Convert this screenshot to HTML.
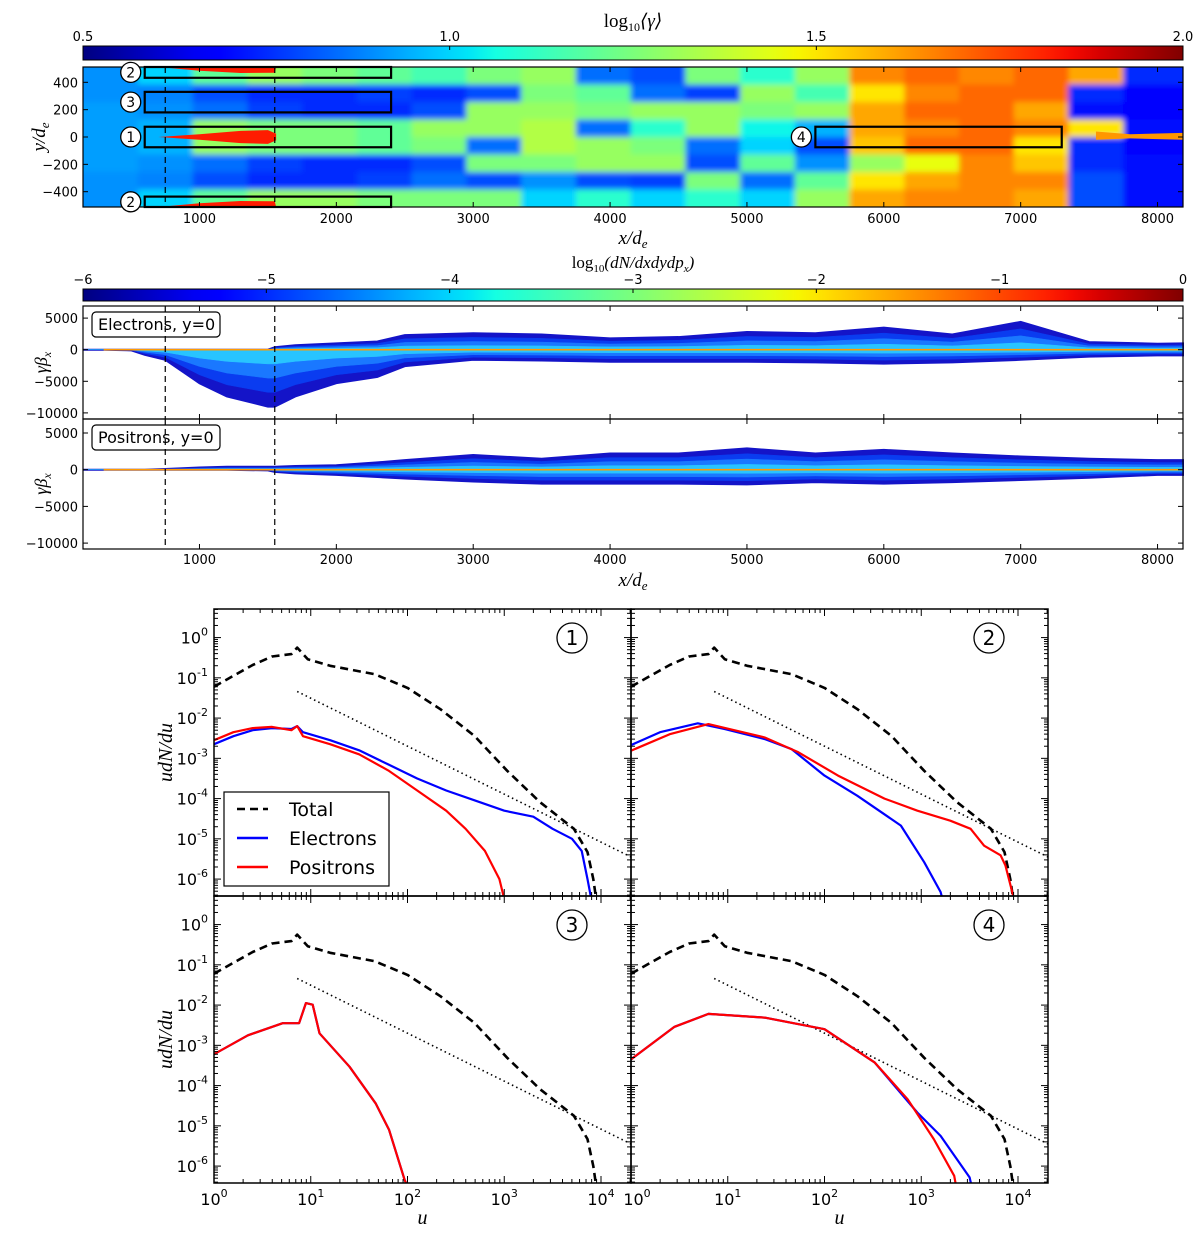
<!DOCTYPE html>
<html><head><meta charset="utf-8"><style>
body{margin:0;background:#fff}
svg text{font-family:"DejaVu Sans","Liberation Sans",sans-serif;fill:#000}
.it{font-family:"Liberation Serif","DejaVu Serif",serif;font-style:italic}
</style></head><body>
<svg id="fig" xmlns="http://www.w3.org/2000/svg" width="1200" height="1231" viewBox="0 0 1200 1231">
<defs>
<linearGradient id="jetg" x1="0" x2="1" y1="0" y2="0"></linearGradient>
<clipPath id="clipTop"><rect x="83" y="67" width="1100" height="140"/></clipPath>
<filter id="blur1" x="-5%" y="-5%" width="110%" height="110%"><feGaussianBlur stdDeviation="3"/></filter>
</defs>
<g id="root"></g>
</svg>
<script>
// ===== data =====
const gammaColStart = [150,550,950,1350,1750,2150,2550,2950,3350,3750,4150,4550,4950,5350,5750,6150,6550,6950,7350,7750];
const gammaRow0 = [0.9,1.0,1.2,1.3,1.25,1.2,1.15,1.25,1.3,0.85,0.8,1.25,1.1,1.3,1.65,1.7,1.65,1.7,1.6,0.75];
const gammaRow1 = [0.9,0.88,0.8,0.75,0.75,0.78,0.75,0.8,1.25,1.2,0.85,0.78,1.3,1.15,1.5,1.65,1.7,1.7,0.75,0.68];
const gammaRow2 = [0.92,0.9,0.85,0.78,0.75,0.75,0.8,1.3,1.3,1.25,1.3,1.3,1.25,1.3,1.6,1.7,1.7,1.6,0.7,0.68];
const gammaRow3 = [0.92,0.95,1.3,1.25,1.25,1.2,1.3,1.3,1.35,0.85,1.1,1.3,1.05,0.95,1.6,1.65,1.7,1.65,1.5,0.7];
const gammaRow4 = [0.92,0.95,1.3,1.25,1.25,1.2,1.25,0.85,1.35,1.3,1.25,0.85,1.0,0.8,1.55,1.7,1.7,1.5,0.75,0.68];
const gammaRow5 = [0.92,0.9,0.85,0.78,0.75,0.75,0.8,1.25,1.25,1.3,1.3,0.8,1.2,0.9,1.3,1.45,1.65,1.55,0.75,0.7];
const gammaRow6 = [0.9,0.88,0.8,0.75,0.75,0.78,0.85,0.8,0.9,0.8,0.78,1.25,0.85,1.2,1.5,1.6,1.65,1.65,0.8,0.7];
const gammaRow7 = [0.9,1.0,1.2,1.3,1.3,1.25,1.25,1.25,1.0,1.1,1.0,1.1,1.0,1.3,1.6,1.65,1.65,1.6,0.8,0.7];

const phaseX = [150,300,500,600,750,1000,1200,1500,1550,1700,2000,2300,2500,3000,3500,4000,4500,5000,5500,6000,6500,7000,7500,8000,8186];
const eleUpper = [0,0,0,0,0,0,0,0,400,700,1000,1300,2300,2600,2400,1800,2000,2800,2600,3500,2400,4400,1200,950,1000];
const eleLower = [0,0,-100,-800,-1600,-5300,-7400,-9000,-9000,-7400,-5300,-4300,-2600,-1600,-1700,-1900,-1900,-1900,-2000,-2200,-2000,-1600,-1100,-900,-900];
const posUpper = [0,0,0,0,100,300,400,400,400,500,600,1000,1300,2000,1500,2200,2200,2900,2200,2700,2200,1800,1500,1300,1300];
const posLower = [0,0,0,0,0,0,0,-100,-300,-500,-700,-1000,-1200,-1600,-1900,-1900,-1900,-2000,-1700,-1900,-1700,-1400,-1100,-700,-700];

// spectra: log10(u), log10(udN/du)
const totalLogU = [0,0.2,0.4,0.6,0.8,0.86,0.97,1.2,1.66,2.0,2.34,2.69,3.03,3.37,3.72,3.86,3.92,3.95];
const totalLogY = [-1.22,-0.95,-0.68,-0.47,-0.41,-0.25,-0.54,-0.7,-0.91,-1.25,-1.78,-2.44,-3.31,-4.09,-4.75,-5.33,-6.0,-6.5];
const dottedLogU = [0.86,4.31];
const dottedLogY = [-1.34,-5.45];
const p1EleU = [0,0.2,0.4,0.6,0.8,0.86,0.92,1.2,1.5,1.8,2.1,2.4,2.7,3.0,3.3,3.5,3.7,3.8,3.86,3.9];
const p1EleY = [-2.65,-2.45,-2.3,-2.25,-2.27,-2.2,-2.35,-2.55,-2.8,-3.15,-3.5,-3.8,-4.05,-4.3,-4.45,-4.75,-5.0,-5.3,-6.0,-6.5];
const p1PosU = [0,0.2,0.4,0.6,0.8,0.86,0.92,1.2,1.5,1.8,2.1,2.4,2.6,2.8,2.95,3.0];
const p1PosY = [-2.55,-2.35,-2.25,-2.22,-2.3,-2.2,-2.45,-2.65,-2.9,-3.3,-3.8,-4.3,-4.75,-5.3,-6.0,-6.5];
const p2EleU = [0,0.3,0.69,0.97,1.38,1.66,2.0,2.34,2.79,3.03,3.2,3.22];
const p2EleY = [-2.67,-2.35,-2.13,-2.27,-2.52,-2.77,-3.43,-3.93,-4.67,-5.58,-6.32,-6.5];
const p2PosU = [0,0.4,0.8,1.38,1.73,2.14,2.62,2.96,3.3,3.51,3.65,3.82,3.87,3.94,3.96];
const p2PosY = [-2.81,-2.4,-2.15,-2.48,-2.85,-3.43,-4.0,-4.3,-4.55,-4.75,-5.17,-5.41,-5.66,-6.32,-6.5];
const p3EleU = [0,0.35,0.71,0.88,0.95,1.02,1.09,1.4,1.67,1.81,1.97,2.0];
const p3EleY = [-3.22,-2.75,-2.45,-2.45,-1.95,-1.99,-2.7,-3.53,-4.44,-5.1,-6.34,-6.5];
const p4EleU = [0,0.45,0.8,1.38,2.0,2.52,2.96,3.2,3.5,3.52];
const p4EleY = [-3.35,-2.54,-2.22,-2.31,-2.6,-3.43,-4.67,-5.25,-6.28,-6.5];
const p4PosU = [0,0.45,0.8,1.38,2.0,2.52,2.86,3.13,3.34,3.36];
const p4PosY = [-3.35,-2.54,-2.22,-2.31,-2.6,-3.43,-4.34,-5.33,-6.24,-6.5];

// ===== helpers =====
const NS="http://www.w3.org/2000/svg";
const root=document.getElementById('root');
function mk(tag,attrs,parent){const e=document.createElementNS(NS,tag);for(const k in attrs)e.setAttribute(k,attrs[k]);(parent||root).appendChild(e);return e;}
function jet(t){t=Math.max(0,Math.min(1,t));
 let r=t<0.35?0:t<0.66?(t-0.35)/0.31:t<0.89?1:1-0.5*(t-0.89)/0.11;
 let g=t<0.125?0:t<0.375?(t-0.125)/0.25:t<0.64?1:t<0.91?1-(t-0.64)/0.27:0;
 let b=t<0.11?0.5+0.5*t/0.11:t<0.34?1:t<0.65?1-(t-0.34)/0.31:0;
 return `rgb(${Math.round(r*255)},${Math.round(g*255)},${Math.round(b*255)})`;}
const grad=document.getElementById('jetg');
for(let i=0;i<=40;i++){const s=document.createElementNS(NS,'stop');s.setAttribute('offset',i/40);s.setAttribute('stop-color',jet(i/40));grad.appendChild(s);}

const XL=83,XR=1183,D0=149,D1=8186;
function xd(d){return XL+(d-D0)/(D1-D0)*(XR-XL);}

function colorbar(y0,h,labels,vmin,vmax,dec,name){
 const g=mk('g',{});
 
 
 mk('rect',{x:XL,y:y0,width:XR-XL,height:h,fill:'url(#jetg)',stroke:'#000','stroke-width':1},g);
 labels.forEach(v=>{const x=XL+(v-vmin)/(vmax-vmin)*(XR-XL);
  mk('line',{x1:x,x2:x,y1:y0,y2:y0+4,stroke:'#000'},g);
  const t=mk('text',{x:x,y:y0-5,'font-size':13,'text-anchor':'middle'},g);
  const s=Math.abs(v).toFixed(dec);t.textContent=(v<0?'\u2212':'')+s;});
}
colorbar(46,14,[0.5,1.0,1.5,2.0],0.5,2.0,1,'gamma-colorbar');
{const t=mk('text',{x:633,y:27,'font-size':19,'text-anchor':'middle',class:'it'});
 
 t.innerHTML='<tspan font-style="normal">log</tspan><tspan font-style="normal" font-size="12" dy="4">10</tspan><tspan dy="-4">⟨γ⟩</tspan>';}

// ===== top heatmap =====
{const YT=67,YB=207,Y0=512;
 const yd=v=>YT+(Y0-v)/(2*Y0)*(YB-YT);
 const g=mk('g',{'clip-path':'url(#clipTop)'});
 
 
 const bg=mk('g',{filter:'url(#blur1)'},g);
 const rows=[gammaRow0,gammaRow1,gammaRow2,gammaRow3,gammaRow4,gammaRow5,gammaRow6,gammaRow7];
 rows.forEach((row,ri)=>{row.forEach((v,ci)=>{
  const x0=xd(gammaColStart[ci]-(ci==0?100:0)), x1=xd(ci+1<gammaColStart.length?gammaColStart[ci+1]:D1+100);
  const yA=yd(Y0-ri*128+(ri==0?60:0)), yB=yd(Y0-(ri+1)*128-(ri==7?60:0));
  const r=mk('rect',{x:x0,y:yA,width:x1-x0+0.5,height:yB-yA+0.5,fill:jet((v-0.5)/1.5)},bg);
  
  
 });});
 const red=jet(0.88);
 const pts=a=>a.map(p=>xd(p[0])+','+yd(p[1])).join(' ');
 mk('polygon',{points:pts([[700,0],[1000,20],[1300,45],[1500,50],[1560,25],[1560,-25],[1500,-50],[1300,-45],[1000,-20]]),fill:red},g);
 mk('polygon',{points:pts([[700,512],[1000,485],[1300,468],[1550,470],[1560,512]]),fill:red},g);
 mk('polygon',{points:pts([[700,-512],[1000,-485],[1300,-468],[1550,-470],[1560,-512]]),fill:red},g);
 mk('polygon',{points:pts([[7550,40],[7800,20],[8186,30],[8186,-20],[7800,-10],[7550,-20]]),fill:jet(0.75)},g);
 mk('rect',{x:XL,y:YT,width:XR-XL,height:YB-YT,fill:'none',stroke:'#000','stroke-width':1.2});
 const boxes=[[600,2400,433,512,'2'],[600,2400,180,330,'3'],[600,2400,-75,75,'1'],[600,2400,-512,-436,'2'],[5500,7300,-75,75,'4']];
 boxes.forEach(b=>{const bx=mk('rect',{x:xd(b[0]),y:yd(b[3]),width:xd(b[1])-xd(b[0]),height:yd(b[2])-yd(b[3]),fill:'none',stroke:'#000','stroke-width':2.2});
  
  const cy=(yd(b[2])+yd(b[3]))/2, cx=xd(b[0])-14;
  mk('circle',{cx:cx,cy:Math.max(YT+1,Math.min(YB-1,cy)),r:10,fill:'#fff',stroke:'#000','stroke-width':1.3});
  const t=mk('text',{x:cx,y:Math.max(YT+1,Math.min(YB-1,cy))+5,'font-size':14,'text-anchor':'middle'});t.textContent=b[4];});
 [400,200,0,-200,-400].forEach(v=>{const y=yd(v);
  mk('line',{x1:XL,x2:XL+5,y1:y,y2:y,stroke:'#000'});mk('line',{x1:XR,x2:XR-5,y1:y,y2:y,stroke:'#000'});
  const t=mk('text',{x:78,y:y+5,'font-size':13,'text-anchor':'end'});t.textContent=v<0?'\u2212'+(-v):v;});
 [1000,2000,3000,4000,5000,6000,7000,8000].forEach(v=>{const x=xd(v);
  mk('line',{x1:x,x2:x,y1:YB,y2:YB-5,stroke:'#000'});mk('line',{x1:x,x2:x,y1:YT,y2:YT+5,stroke:'#000'});
  const t=mk('text',{x:x,y:223,'font-size':13,'text-anchor':'middle'});t.textContent=v;});
 [750,1550].forEach(v=>mk('line',{x1:xd(v),x2:xd(v),y1:YT,y2:YB-5,stroke:'#000','stroke-width':1.2,'stroke-dasharray':'6,4'}));
 const yl=mk('text',{x:0,y:0,'font-size':19,class:'it','text-anchor':'middle',transform:'translate(45,137) rotate(-90)'});
 yl.innerHTML='y/d<tspan font-size="13" dy="4">e</tspan>';
 const xl=mk('text',{x:633,y:244,'font-size':19,class:'it','text-anchor':'middle'});
 xl.innerHTML='x/d<tspan font-size="13" dy="4">e</tspan>';
}

// ===== colorbar 2 =====
colorbar(289,12,[-6,-5,-4,-3,-2,-1,0],-6,0,0,'density-colorbar');
{const t=mk('text',{x:633,y:268,'font-size':17,class:'it','text-anchor':'middle'});
 
 t.innerHTML='<tspan font-style="normal">log</tspan><tspan font-style="normal" font-size="11" dy="4">10</tspan><tspan dy="-4">(dN/dxdydp</tspan><tspan font-size="11" dy="4">x</tspan><tspan dy="-4">)</tspan>';}

// ===== phase space panels =====
function phasePanel(YT,YB,zeroY,per5000,upper,lower,label,name){
 const yv=v=>zeroY-v/5000*per5000;
 const g=mk('g',{});
 
 
 const layers=[[1,'#1414c8'],[0.75,'#0a3cf0'],[0.5,'#1a78ff'],[0.25,'#28c4ff']];
 layers.forEach(L=>{
  let p=phaseX.map((d,i)=>xd(d)+','+yv(upper[i]*L[0])).join(' ');
  p+=' '+phaseX.slice().reverse().map((d,i)=>{const k=phaseX.length-1-i;return xd(d)+','+yv(lower[k]*L[0]);}).join(' ');
  mk('polygon',{points:p,fill:L[1],stroke:L[1],'stroke-width':L[0]==1?2:0.5},g);
 });
 mk('line',{x1:xd(300),x2:XR,y1:zeroY,y2:zeroY,stroke:'#ff9a00','stroke-width':1.6},g);
 mk('rect',{x:XL,y:YT,width:XR-XL,height:YB-YT,fill:'none',stroke:'#000','stroke-width':1.2});
 [5000,0,-5000,-10000].forEach(v=>{const y=yv(v);
  mk('line',{x1:XL,x2:XL+5,y1:y,y2:y,stroke:'#000'});mk('line',{x1:XR,x2:XR-5,y1:y,y2:y,stroke:'#000'});
  const t=mk('text',{x:78,y:y+5,'font-size':13,'text-anchor':'end'});t.textContent=v<0?'\u2212'+(-v):v;});
 [1000,2000,3000,4000,5000,6000,7000,8000].forEach(v=>{const x=xd(v);
  mk('line',{x1:x,x2:x,y1:YB,y2:YB-5,stroke:'#000'});mk('line',{x1:x,x2:x,y1:YT,y2:YT+5,stroke:'#000'});});
 const lb=mk('rect',{x:92,y:YT+6,width:128,height:25,rx:4,fill:'#fff',stroke:'#000','stroke-width':1.2});
 
 const t=mk('text',{x:98,y:YT+24,'font-size':16});t.textContent=label;
 const yl=mk('text',{x:0,y:0,'font-size':18,class:'it','text-anchor':'middle',transform:`translate(47,${(YT+YB)/2}) rotate(-90)`});
 yl.innerHTML='γβ<tspan font-size="12" dy="4">x</tspan>';
 [750,1550].forEach(v=>mk('line',{x1:xd(v),x2:xd(v),y1:YT,y2:YB,stroke:'#000','stroke-width':1.2,'stroke-dasharray':'6,4'}));
}
phasePanel(306,419,349.7,31.6,eleUpper,eleLower,'Electrons, y=0','electron-phase-panel');
phasePanel(419,549,469.7,36.7,posUpper,posLower,'Positrons, y=0','positron-phase-panel');
[1000,2000,3000,4000,5000,6000,7000,8000].forEach(v=>{const t=mk('text',{x:xd(v),y:564,'font-size':13,'text-anchor':'middle'});t.textContent=v;});
{const xl=mk('text',{x:633,y:586,'font-size':19,class:'it','text-anchor':'middle'});xl.innerHTML='x/d<tspan font-size="13" dy="4">e</tspan>';}

// ===== spectra panels =====
const LMAX=4.31, YMAX=0.71, YMIN=-6.42;
function specPanel(x0,y0,num,series,showXL,showYL,name){
 const W=417,H=287;
 const sx=lu=>x0+lu/LMAX*W, sy=ly=>y0+(YMAX-ly)/(YMAX-YMIN)*H;
 const g=mk('g',{});
 
 
 const cpp=mk('clipPath',{id:'c'+num},g);
 mk('rect',{x:x0,y:y0,width:W,height:H},cpp);
 const dg=mk('g',{'clip-path':`url(#c${num})`},g);
 series.forEach(s=>{
  const d=s.u.map((u,i)=>(i?'L':'M')+sx(u).toFixed(1)+','+sy(s.y[i]).toFixed(1)).join(' ');
  const p=mk('path',{d:d,fill:'none',stroke:s.c,'stroke-width':s.w,'stroke-dasharray':s.dash||'none','stroke-linejoin':'round'},dg);
  
  
 });
 mk('rect',{x:x0,y:y0,width:W,height:H,fill:'none',stroke:'#000','stroke-width':1.5},g);
 for(let dec=0;dec<=4;dec++){for(let m=1;m<10;m++){const lu=dec+Math.log10(m);if(lu>LMAX)break;const x=sx(lu),L=m==1?7:4;
  mk('line',{x1:x,x2:x,y1:y0+H,y2:y0+H-L,stroke:'#000'},g);mk('line',{x1:x,x2:x,y1:y0,y2:y0+L,stroke:'#000'},g);}
  if(showXL){const t=mk('text',{x:sx(dec)+(dec==0&&x0>600?6:0),y:y0+H+22,'font-size':16,'text-anchor':'middle'},g);t.innerHTML='10<tspan font-size="11" dy="-8">'+dec+'</tspan>';}}
 for(let dec=-7;dec<=0;dec++){for(let m=1;m<10;m++){const ly=dec+Math.log10(m);if(ly>YMAX||ly<YMIN)continue;const y=sy(ly),L=m==1?7:4;
  mk('line',{x1:x0,x2:x0+L,y1:y,y2:y,stroke:'#000'},g);mk('line',{x1:x0+W,x2:x0+W-L,y1:y,y2:y,stroke:'#000'},g);}
  if(showYL&&dec>=-6){const t=mk('text',{x:x0-6,y:sy(dec)+6,'font-size':16,'text-anchor':'end'},g);t.innerHTML='10<tspan font-size="11" dy="-8">'+dec+'</tspan>';}}
 const cx=x0+W-59, cy=y0+29;
 mk('circle',{cx:cx,cy:cy,r:15,fill:'none',stroke:'#000','stroke-width':1.3},g);
 const t=mk('text',{x:cx,y:cy+7,'font-size':20,'text-anchor':'middle'},g);t.textContent=num;
 if(showYL){const yl=mk('text',{x:0,y:0,'font-size':20,class:'it','text-anchor':'middle',transform:`translate(172,${y0+H/2}) rotate(-90)`},g);yl.textContent='udN/du';}
 if(showXL){const xl=mk('text',{x:x0+W/2,y:y0+H+41,'font-size':20,class:'it','text-anchor':'middle'},g);xl.textContent='u';}
}
const tot={u:totalLogU,y:totalLogY,c:'#000',w:2.6,dash:'8,5',n:'total-curve'};
const dot={u:dottedLogU,y:dottedLogY,c:'#000',w:1.6,dash:'1.5,3.2',n:'power-law-line'};
specPanel(214,609,'1',[dot,tot,{u:p1EleU,y:p1EleY,c:'#0000ff',w:2.2,n:'electrons-curve'},{u:p1PosU,y:p1PosY,c:'#ff0000',w:2.2,n:'positrons-curve'}],false,true,'spectrum-panel-1');
specPanel(631,609,'2',[dot,tot,{u:p2EleU,y:p2EleY,c:'#0000ff',w:2.2,n:'electrons-curve'},{u:p2PosU,y:p2PosY,c:'#ff0000',w:2.2,n:'positrons-curve'}],false,false,'spectrum-panel-2');
specPanel(214,896,'3',[dot,tot,{u:p3EleU,y:p3EleY,c:'#0000ff',w:2.2,n:'electrons-curve'},{u:p3EleU,y:p3EleY,c:'#ff0000',w:2.2,n:'positrons-curve'}],true,true,'spectrum-panel-3');
specPanel(631,896,'4',[dot,tot,{u:p4EleU,y:p4EleY,c:'#0000ff',w:2.2,n:'electrons-curve'},{u:p4PosU,y:p4PosY,c:'#ff0000',w:2.2,n:'positrons-curve'}],true,false,'spectrum-panel-4');

{const g=mk('g',{});
 
 
 mk('rect',{x:224,y:792,width:165,height:94,fill:'#fff',stroke:'#000','stroke-width':1.2},g);
 [['Total','#000','8,5',809],['Electrons','#0000ff','none',838],['Positrons','#ff0000','none',867]].forEach(e=>{
  const l=mk('line',{x1:237,x2:268,y1:e[3],y2:e[3],stroke:e[1],'stroke-width':2.4,'stroke-dasharray':e[2]},g);
  
  const t=mk('text',{x:289,y:e[3]+7,'font-size':19},g);t.textContent=e[0];});
}
</script>
</body></html>
